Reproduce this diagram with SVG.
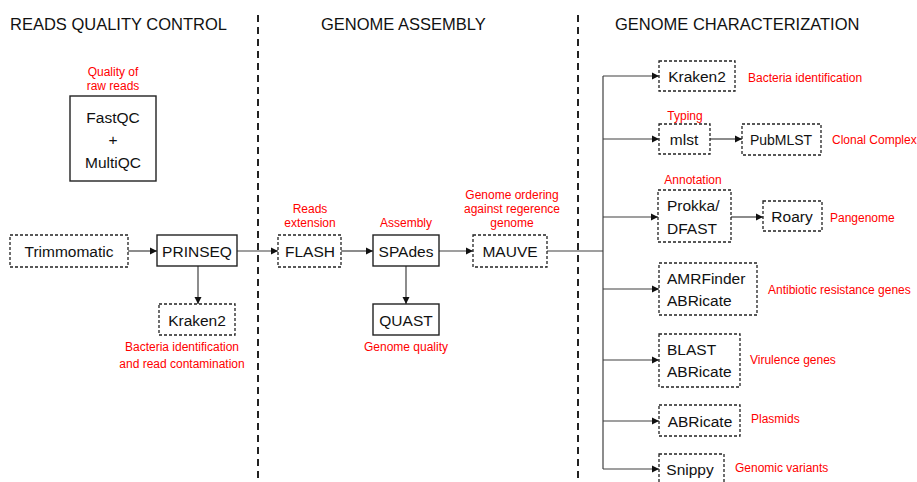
<svg xmlns="http://www.w3.org/2000/svg" width="917" height="482" viewBox="0 0 917 482">
<style>
.h{font-family:"Liberation Sans",Arial,sans-serif;font-size:16.5px;fill:#111}
.t{font-family:"Liberation Sans",Arial,sans-serif;font-size:15.5px;fill:#111;text-anchor:middle}
.l{text-anchor:start}
.r{font-family:"Liberation Sans",Arial,sans-serif;font-size:12px;fill:#ff0000}
.rc{text-anchor:middle}
.s{fill:#fff;stroke:#222;stroke-width:1.4}
.d{fill:#fff;stroke:#222;stroke-width:1.3;stroke-dasharray:3 2}
.c{fill:none;stroke:#404040;stroke-width:1.2}
.a{marker-end:url(#ar)}
.sep{stroke:#222;stroke-width:2;stroke-dasharray:7 5}
</style>
<defs>
<marker id="ar" markerWidth="8" markerHeight="8" refX="7" refY="4" orient="auto" markerUnits="userSpaceOnUse">
<path d="M0,0.5 L7,4 L0,7.5 z" fill="#111"/>
</marker>
</defs>
<rect width="917" height="482" fill="#fff"/>
<g id="separators">
<line class="sep" x1="258" y1="15" x2="258" y2="482"/>
<line class="sep" x1="578" y1="15" x2="578" y2="482"/>
</g>
<g id="headers">
<text class="h" x="10" y="30">READS QUALITY CONTROL</text>
<text class="h" x="321" y="30">GENOME ASSEMBLY</text>
<text class="h" x="615" y="30">GENOME CHARACTERIZATION</text>
</g>
<g id="connectors">
<line class="c a" x1="128" y1="251" x2="157" y2="251"/>
<line class="c a" x1="198" y1="266" x2="198" y2="304"/>
<line class="c a" x1="237" y1="251" x2="278" y2="251"/>
<line class="c a" x1="341" y1="251" x2="373" y2="251"/>
<line class="c a" x1="406" y1="266" x2="406" y2="304"/>
<line class="c a" x1="439" y1="251" x2="473" y2="251"/>
<line class="c" x1="547" y1="251" x2="603" y2="251"/>
<line class="c" x1="603" y1="76" x2="603" y2="469"/>
<line class="c a" x1="603" y1="76" x2="659" y2="76"/>
<line class="c a" x1="603" y1="139" x2="659" y2="139"/>
<line class="c a" x1="710" y1="139" x2="742" y2="139"/>
<line class="c a" x1="603" y1="217" x2="658" y2="217"/>
<line class="c a" x1="731" y1="217" x2="763" y2="217"/>
<line class="c a" x1="603" y1="289" x2="659" y2="289"/>
<line class="c a" x1="603" y1="360" x2="659" y2="360"/>
<line class="c a" x1="603" y1="421" x2="659" y2="421"/>
<line class="c a" x1="603" y1="469" x2="659" y2="469"/>
</g>
<g id="fastqc">
<rect class="s" x="70" y="96" width="86" height="85"/>
<text class="t" x="113" y="123">FastQC</text>
<text class="t" x="113" y="145">+</text>
<text class="t" x="113" y="168">MultiQC</text>
<text class="r rc" x="113" y="76">Quality of</text>
<text class="r rc" x="113" y="90">raw reads</text>
</g>
<g id="trimmomatic">
<rect class="d" x="10" y="235" width="118" height="32"/>
<text class="t" x="69" y="257">Trimmomatic</text>
</g>
<g id="prinseq">
<rect class="s" x="157" y="235" width="80" height="31"/>
<text class="t" x="197" y="257">PRINSEQ</text>
</g>
<g id="kraken2a">
<rect class="d" x="159" y="304" width="76" height="31"/>
<text class="t" x="197" y="326">Kraken2</text>
<text class="r rc" x="182" y="351">Bacteria identification</text>
<text class="r rc" x="182" y="368">and read contamination</text>
</g>
<g id="flash">
<rect class="d" x="278" y="235" width="63" height="32"/>
<text class="t" x="310" y="257">FLASH</text>
<text class="r rc" x="310" y="213">Reads</text>
<text class="r rc" x="310" y="227">extension</text>
</g>
<g id="spades">
<rect class="s" x="373" y="235" width="66" height="31"/>
<text class="t" x="406" y="257">SPAdes</text>
<text class="r rc" x="406" y="227">Assembly</text>
</g>
<g id="quast">
<rect class="s" x="373" y="304" width="66" height="31"/>
<text class="t" x="406" y="326">QUAST</text>
<text class="r rc" x="406" y="351">Genome quality</text>
</g>
<g id="mauve">
<rect class="d" x="473" y="235" width="74" height="32"/>
<text class="t" x="510" y="257">MAUVE</text>
<text class="r rc" x="512" y="199">Genome ordering</text>
<text class="r rc" x="512" y="213">against regerence</text>
<text class="r rc" x="512" y="227">genome</text>
</g>
<g id="kraken2b">
<rect class="d" x="659" y="61" width="76" height="30"/>
<text class="t" x="697" y="82">Kraken2</text>
<text class="r" x="748" y="82">Bacteria identification</text>
</g>
<g id="mlst">
<rect class="d" x="659" y="124" width="51" height="30"/>
<text class="t" x="684" y="145">mlst</text>
<text class="r rc" x="685" y="120">Typing</text>
</g>
<g id="pubmlst">
<rect class="d" x="742" y="124" width="79" height="31"/>
<text class="t" x="781" y="145" style="font-size:14px">PubMLST</text>
<text class="r" x="832" y="144">Clonal Complex</text>
</g>
<g id="prokka">
<rect class="d" x="658" y="190" width="73" height="52"/>
<text class="t l" x="667" y="211">Prokka/</text>
<text class="t l" x="667" y="234">DFAST</text>
<text class="r rc" x="693" y="184">Annotation</text>
</g>
<g id="roary">
<rect class="d" x="763" y="201" width="59" height="30"/>
<text class="t" x="792" y="222">Roary</text>
<text class="r" x="830" y="222">Pangenome</text>
</g>
<g id="amr">
<rect class="d" x="659" y="263" width="98" height="52"/>
<text class="t l" x="667" y="284">AMRFinder</text>
<text class="t l" x="667" y="306">ABRicate</text>
<text class="r" x="768" y="294">Antibiotic resistance genes</text>
</g>
<g id="blast">
<rect class="d" x="659" y="334" width="81" height="53"/>
<text class="t l" x="667" y="355">BLAST</text>
<text class="t l" x="667" y="377">ABRicate</text>
<text class="r" x="750" y="364">Virulence genes</text>
</g>
<g id="abricate">
<rect class="d" x="659" y="405" width="81" height="31"/>
<text class="t" x="700" y="427">ABRicate</text>
<text class="r" x="751" y="423">Plasmids</text>
</g>
<g id="snippy">
<rect class="d" x="659" y="454" width="65" height="34"/>
<text class="t" x="690" y="475">Snippy</text>
<text class="r" x="735" y="472">Genomic variants</text>
</g>
</svg>
